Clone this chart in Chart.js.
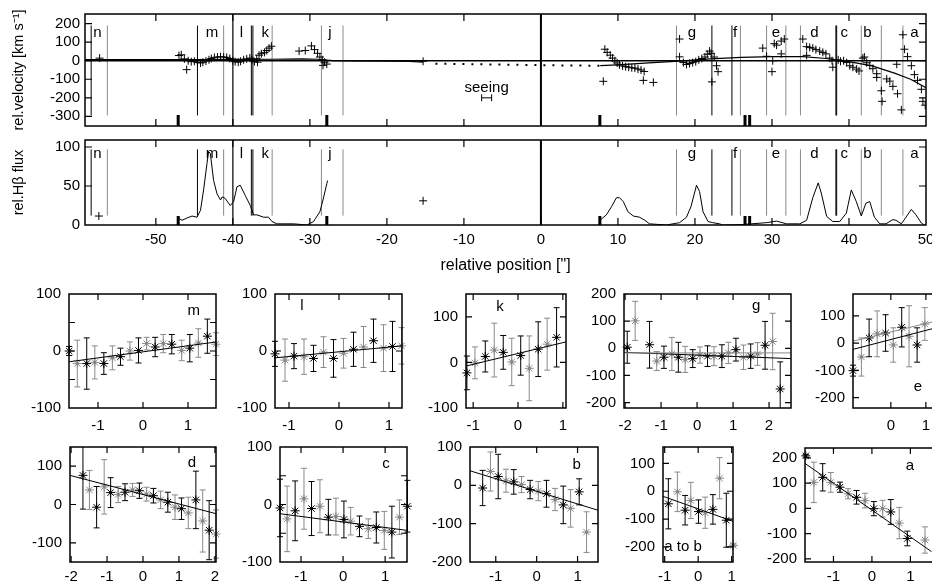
<!DOCTYPE html>
<html>
<head>
<meta charset="utf-8">
<script src="https://cdn.jsdelivr.net/npm/chart.js@4.4.1/dist/chart.umd.min.js"></script>
<style>
  body { margin: 0; background: #fff; width: 932px; height: 586px; overflow: hidden; position: relative; }
  canvas { position: absolute; }
</style>
</head>
<body>
<script>
const FONT = '"Liberation Sans", Arial, Helvetica, sans-serif';
const GRAY = '#8a8a8a';

// ---- top panels: position along the slit (arcsec)
const posTicks = [-50, -40, -30, -20, -10, 0, 10, 20, 30, 40, 50];
const velTicks = [-300, -200, -100, 0, 100, 200];
const fluxTicks = [0, 50, 100];

const velX = [-57.3,
  -47.0, -46.7, -46.3, -46.0, -45.8, -45.4, -45.0, -44.6, -44.2, -43.9, -43.5, -43.1, -42.8, -42.4, -42.0, -41.6, -41.2, -40.8, -40.4,
  -40.0, -39.7, -39.3, -39.0, -38.6, -38.2, -37.8, -37.5,
  -37.2, -36.9, -36.8, -36.6, -36.3, -35.9, -35.6, -35.3, -35.0,
  -31.4, -30.6, -29.8, -29.4, -29.0, -28.7, -28.4, -28.1, -27.8, -28.3,
  -15.3,
  8.1, 8.3, 8.6, 9.0, 9.3, 9.6, 9.9, 10.2, 10.6, 11.0, 11.4, 11.8, 12.2, 12.6, 13.0, 13.4, 13.3, 14.6,
  18.0, 18.0, 18.5, 18.9, 19.3, 19.7, 20.1, 20.5, 20.9, 21.3, 21.6, 21.9, 22.1, 22.2, 22.8, 23.0, 22.5,
  28.8, 29.3, 30.1, 30.0, 30.6, 31.2, 31.6, 31.2, 30.3,
  34.0, 34.5, 34.9, 35.3, 35.7, 36.2, 36.6, 37.0, 37.5, 37.9, 34.5, 37.8,
  38.6, 38.9, 39.3, 39.7, 40.1, 40.5, 41.0, 41.3,
  41.8, 42.0, 42.3, 42.7, 43.1, 43.6, 43.6, 44.2, 44.3,
  44.9, 45.3, 45.7, 46.3, 46.8, 46.2,
  47.0, 47.2, 47.6, 48.1, 48.5, 48.9, 49.4, 49.6, 49.9];
const velY = [14,
  28, 32, 10, -48, 0, -5, -3, -10, -12, -8, -2, 5, 12, 18, 20, 22, 20, 18, 12,
  0, -5, -8, -3, 5, 10, 14, 6,
  -5, 10, -8, 30, 38, 45, 55, 68, 78,
  52, 55, 80, 60, 40, 20, 5, -8, -18, -25,
  -3,
  -111, 62, 45, 30, 14, 0, -12, -22, -28, -32, -35, -38, -40, -45, -50, -58, -106, -117,
  117, 21, -10, -20, -15, -10, -5, 5, 12, 20, 35, 52, 40, -114, -27, -59, 20,
  68, 24, 0, -59, 84, 106, 117, 37, 92,
  117, 76, 72, 68, 60, 52, 45, 37, 14, -35, 29, 0,
  5, -3, 0, -10, -27, -35, -45, -55,
  14, 20, -11, -25, -43, -70, -90, -162, -219,
  -98, -110, -138, -178, -265, -19,
  140, 62, 22, -27, -75, -106, -154, -219, -240];

const fitLeftX = [-59.2, -50, -45, -40, -35, -31, -29, -27, -25, -20, -17, -15.3];
const fitLeftY = [6, 6, 6, 7, 8, 10, 8, 1, -1, -2, -4, -8];
const fitDotX = [-13.7, -8, -3, 2, 7.6];
const fitDotY = [-16, -19, -22, -25, -27];
const fitRightX = [7.7, 10, 14, 18, 22, 26, 30, 34, 37, 40, 43, 46, 48, 50];
const fitRightY = [-26, -22, -12, -2, 10, 18, 22, 22, 12, -5, -28, -68, -100, -145];

const fluxLeftX = [-47.25, -46.6, -45.95, -45.3, -44.65, -44.2, -43.8, -43.36, -43.15, -42.93, -42.5, -42.06, -41.6, -41.4, -40.99,
  -40.34, -39.9, -39.47, -39.04, -38.4, -37.74, -37.3, -36.88, -36.0, -35.37, -34.93, -34.28, -32.1, -30.4, -29.5, -29.3, -28.7,
  -28.3, -27.8, -27.7];
const fluxLeftY = [10, 6, 9, 11.5, 10, 19, 45, 79, 94, 92, 57, 40, 32, 36, 34,
  25, 30, 49, 51, 38, 25, 13, 13, 10, 10, 4.5, 1.5, 1.5, 0, 4.5, 8, 17,
  32, 53, 57];
const fluxRightX = [7.65, 8.5, 9.2, 9.8, 10.2, 10.7, 11.3, 12.0, 12.8, 13.5, 14.1, 16.3, 18.0, 18.9, 19.5, 20.2, 20.6, 21.05,
  21.7, 22.3, 23.2, 23.6, 26, 29.3, 30.6, 31.9, 33.6, 34.5, 35.3, 36.0, 36.4, 37.1, 37.9, 38.8, 39.65, 40.3, 40.95, 41.6,
  42.2, 42.7, 43.3, 44.0, 44.8, 45.7, 46.1, 46.8, 47.4, 48.1, 48.7, 49.4, 49.8];
const fluxRightY = [6, 13, 24, 35, 35, 30, 17, 11.5, 10, 6, 1.5, 0, 3, 10, 24, 51, 43, 17,
  4.5, 3, 1.5, 0, 0.5, 3, 5, 1.5, 1.5, 6, 35, 54, 41, 11, 4.5, 4.5, 15, 45, 30, 11.5,
  28, 30, 10, 1.5, 1.5, 7, 6, 1.5, 10, 20, 13, 2.5, 0];
const fluxMarkX = [-57.4, -15.3];
const fluxMarkY = [11.5, 31];

const regionNames = ['n', 'm', 'l', 'k', 'j', 'g', 'f', 'e', 'd', 'c', 'b', 'a'];
const regionLabelX = [-57.6, -42.7, -38.9, -35.8, -27.4, 19.6, 25.2, 30.5, 35.5, 39.4, 42.4, 48.5];
const boundX = [-58.4, -56.3, -44.6, -41.2, -37.6, -37.4, -34.9, -28.5, -25.7, 17.6, 22.2, 24.8, 25.9, 29.3, 31.8, 33.7, 38.3, 38.4, 41.6, 44.2, 47.0];
const boundGray = [0, 1, 0, 1, 0, 0, 1, 1, 1, 1, 0, 0, 1, 1, 1, 1, 0, 0, 1, 1, 1];
const fullLineX = [-40, 0];
const markerBarX = [-47.1, -27.8, 7.65, 26.5, 27.1];
const seeingX = [-7.7, -6.4];
const seeingY = -200;

// ---- small panels: velocity vs offset within each region
const mX = [-1.64, -1.46, -1.25, -1.07, -0.87, -0.68, -0.5, -0.29, -0.1, 0.08, 0.27, 0.45, 0.64, 0.86, 1.04, 1.23, 1.43, 1.62];
const mV = [0, -22, -22, -20, -22, -12, -10, 0, 1, 13, 7, 13, 12, 1, 5, 14, 26, 12];
const mErr = [8, 41, 45, 29, 19, 21, 15, 16, 22, 11, 17, 16, 17, 18, 24, 25, 30, 20];
const mFitX = [-1.65, 1.64], mFitV = [-19, 16];

const lX = [-1.28, -1.08, -0.9, -0.7, -0.51, -0.31, -0.11, 0.09, 0.29, 0.49, 0.69, 0.89, 1.07, 1.25];
const lV = [-5, -16, -9, -10, -13, -2, -13, -4, 3, 7, 18, 5, 8, 9];
const lErr = [22, 37, 22, 31, 23, 27, 33, 26, 30, 36, 38, 41, 44, 32];
const lFitX = [-1.28, 1.26], lFitV = [-12, 9];

const kX = [-1.14, -0.96, -0.73, -0.53, -0.33, -0.14, 0.06, 0.25, 0.45, 0.65, 0.86];
const kV = [-23, -1, 13, 27, 22, 1, 15, -13, 29, 40, 55];
const kErr = [37, 35, 34, 59, 37, 52, 43, 71, 60, 57, 65];
const kFitX = [-1.16, 1.07], kFitV = [-8, 45];

const gX = [-1.94, -1.72, -1.32, -1.12, -0.92, -0.70, -0.52, -0.33, -0.12, 0.08, 0.29, 0.47, 0.69, 0.87, 1.08, 1.29, 1.49, 1.68, 1.89, 2.10, 2.31];
const gV = [4, 101, 13, -47, -33, -21, -33, -41, -38, -25, -29, -29, -29, -17, -5, -33, -29, -21, 11, 25, -150];
const gErr = [59, 72, 86, 35, 41, 61, 55, 48, 33, 30, 38, 35, 42, 39, 42, 45, 45, 42, 88, 104, 100];
const gFitX = [-2.03, 2.61], gFitV = [-15, -38], gFit2V = [-17, -17];

const eX = [-1.08, -0.84, -0.62, -0.39, -0.15, 0.07, 0.31, 0.52, 0.75, 0.97];
const eV = [-101, -51, 19, 34, 37, -7, 58, 25, -7, 70];
const eErr = [20, 70, 69, 84, 67, 63, 72, 112, 63, 60];
const eFitX = [-1.08, 2.0], eFitV = [-23, 80], eFit2V = [7, 103];

const dX = [-1.67, -1.49, -1.29, -1.08, -0.9, -0.69, -0.5, -0.29, -0.1, 0.1, 0.29, 0.49, 0.69, 0.89, 1.07, 1.26, 1.47, 1.66, 1.84, 2.03];
const dV = [76, 38, -7, 46, 31, 26, 32, 38, 36, 27, 23, 12, 6, -7, -11, -22, 12, -43, -67, -77];
const dErr = [88, 51, 54, 71, 39, 21, 22, 17, 20, 18, 19, 23, 26, 32, 28, 41, 75, 81, 77, 63];
const dFitX = [-2.03, 2.03], dFitV = [76, -24];

const cX = [-1.5, -1.33, -1.14, -0.93, -0.75, -0.55, -0.35, -0.17, 0.02, 0.18, 0.39, 0.6, 0.79, 0.98, 1.16, 1.34, 1.53];
const cV = [-6, -25, -11, 10, -7, -3, -22, -21, -26, -29, -38, -42, -40, -45, -48, -22, -3];
const cErr = [50, 57, 52, 53, 47, 46, 31, 32, 32, 24, 18, 17, 27, 33, 45, 30, 45];
const cFitX = [-1.5, 1.52], cFitV = [-16, -45];

const bX = [-1.32, -1.13, -0.94, -0.75, -0.56, -0.37, -0.16, 0.04, 0.24, 0.45, 0.65, 0.83, 1.04, 1.22];
const bV = [-7, 36, 23, 12, 9, 2, -11, -15, -22, -37, -51, -60, -17, -122];
const bErr = [46, 51, 58, 30, 32, 21, 24, 25, 35, 29, 49, 49, 34, 53];
const bFitX = [-1.63, 1.5], bFitV = [38, -65];

const abX = [-0.89, -0.62, -0.39, -0.22, 0.01, 0.21, 0.44, 0.64, 0.84, 1.05];
const abV = [-45, -2, -68, -33, -73, -77, -65, 47, -104, -194];
const abErr = [90, 71, 53, 65, 42, 56, 53, 74, 97, 5];
const abFitX = [-1.05, 1.04], abFitV = [-18, -108];

const aX = [-1.72, -1.51, -1.28, -1.07, -0.83, -0.62, -0.4, -0.18, 0.05, 0.28, 0.49, 0.71, 0.92, 1.38];
const aV = [208, 103, 123, 103, 84, 58, 44, 31, -1, -1, -14, -58, -119, -125];
const aErr = [5, 80, 54, 39, 20, 20, 27, 29, 28, 33, 49, 62, 29, 52];
const aFitX = [-1.74, 1.55], aFitV = [178, -171];

// ---------------------------------------------------------------
function pts(xs, ys) { return xs.map((x, i) => ({ x, y: ys[i] })); }

function makeCanvas(left, top, w, h) {
  const cv = document.createElement('canvas');
  cv.width = w; cv.height = h;
  cv.style.left = left + 'px'; cv.style.top = top + 'px';
  document.body.appendChild(cv);
  return cv;
}

function axis(min, max, ticks, pad, extra) {
  return Object.assign({
    type: 'linear', min, max,
    afterBuildTicks: s => { s.ticks = ticks.map(v => ({ value: v })); },
    grid: { display: false, drawTicks: false },
    border: { display: false },
    ticks: { color: '#000', font: { family: FONT, size: 15 }, autoSkip: false, maxRotation: 0, padding: pad, callback: v => String(v) }
  }, extra);
}

// box with inward tick marks on all four sides
function frame(xm, ym, len) {
  return {
    id: 'frame',
    afterDraw(chart) {
      const { ctx, chartArea: a, scales: { x, y } } = chart;
      ctx.save();
      ctx.strokeStyle = '#000';
      ctx.lineWidth = 1.5;
      ctx.strokeRect(a.left, a.top, a.right - a.left, a.bottom - a.top);
      ctx.lineWidth = 1.2;
      ctx.beginPath();
      xm.forEach(v => {
        const p = x.getPixelForValue(v);
        if (p < a.left + 1 || p > a.right - 1) return;
        ctx.moveTo(p, a.bottom); ctx.lineTo(p, a.bottom - len);
        ctx.moveTo(p, a.top); ctx.lineTo(p, a.top + len);
      });
      ym.forEach(v => {
        const p = y.getPixelForValue(v);
        if (p < a.top + 1 || p > a.bottom - 1) return;
        ctx.moveTo(a.left, p); ctx.lineTo(a.left + len, p);
        ctx.moveTo(a.right, p); ctx.lineTo(a.right - len, p);
      });
      ctx.stroke();
      ctx.restore();
    }
  };
}

const errorBars = {
  id: 'errorBars',
  beforeDatasetsDraw(chart) {
    const { ctx, chartArea: a, scales: { x, y } } = chart;
    ctx.save();
    ctx.beginPath();
    ctx.rect(a.left - 6, a.top, a.right - a.left + 12, a.bottom - a.top);
    ctx.clip();
    ctx.lineWidth = 1;
    chart.data.datasets.forEach(ds => {
      if (!ds.errors) return;
      ds.data.forEach((d, i) => {
        const px = x.getPixelForValue(d.x);
        const lo = y.getPixelForValue(d.y - ds.errors[i]);
        const hi = y.getPixelForValue(d.y + ds.errors[i]);
        ctx.strokeStyle = ds.errColors[i];
        ctx.beginPath();
        ctx.moveTo(px, lo); ctx.lineTo(px, hi);
        ctx.moveTo(px - 3, lo); ctx.lineTo(px + 3, lo);
        ctx.moveTo(px - 3, hi); ctx.lineTo(px + 3, hi);
        ctx.stroke();
      });
    });
    ctx.restore();
  }
};

function notes(items, size) {
  return {
    id: 'notes',
    afterDatasetsDraw(chart) {
      const { ctx, scales: { x, y } } = chart;
      ctx.save();
      ctx.fillStyle = '#000';
      ctx.font = size + 'px ' + FONT;
      ctx.textAlign = 'center';
      ctx.textBaseline = 'middle';
      items.forEach(t => ctx.fillText(t.text, x.getPixelForValue(t.x), y.getPixelForValue(t.y)));
      ctx.restore();
    }
  };
}

// region boundaries, full-height lines, slit markers
function slitDeco(y0, y1, barH, extra) {
  return {
    id: 'slitDeco',
    beforeDatasetsDraw(chart) {
      const { ctx, chartArea: a, scales: { x, y } } = chart;
      ctx.save();
      ctx.lineWidth = 1;
      boundX.forEach((v, i) => {
        const px = x.getPixelForValue(v);
        ctx.strokeStyle = boundGray[i] ? GRAY : '#000';
        ctx.beginPath();
        ctx.moveTo(px, y.getPixelForValue(y0)); ctx.lineTo(px, y.getPixelForValue(y1));
        ctx.stroke();
      });
      fullLineX.forEach(v => {
        const px = x.getPixelForValue(v);
        ctx.strokeStyle = '#000';
        ctx.lineWidth = v === 0 ? 2 : 1.2;
        ctx.beginPath(); ctx.moveTo(px, a.top); ctx.lineTo(px, a.bottom); ctx.stroke();
      });
      ctx.fillStyle = '#000';
      markerBarX.forEach(v => {
        const px = x.getPixelForValue(v);
        ctx.fillRect(px - 1.5, a.bottom - barH, 3, barH);
      });
      if (extra) extra(ctx, a, x, y);
      ctx.restore();
    }
  };
}

const regionNotes = y => regionNames.map((n, i) => ({ text: n, x: regionLabelX[i], y }));

// ---------------- top: velocity
new Chart(makeCanvas(0, 0, 960, 140), {
  type: 'scatter',
  data: {
    datasets: [
      { type: 'line', data: pts(fitLeftX, fitLeftY), borderColor: '#000', borderWidth: 1.2, pointRadius: 0 },
      { type: 'line', data: pts(fitDotX, fitDotY), borderColor: '#000', borderWidth: 2, borderDash: [2, 7], pointRadius: 0 },
      { type: 'line', data: pts(fitRightX, fitRightY), borderColor: '#000', borderWidth: 1.2, pointRadius: 0 },
      { data: pts(velX, velY), pointStyle: 'cross', pointRadius: 4, borderColor: '#000', borderWidth: 1 }
    ]
  },
  options: {
    responsive: false, animation: false, events: [],
    layout: { padding: { top: 13, right: 34, left: 0, bottom: 0 } },
    plugins: { legend: { display: false }, tooltip: { enabled: false } },
    scales: {
      x: { type: 'linear', min: -59.2, max: 50, display: false },
      y: axis(-352, 252, velTicks, 5, {
        afterFit: s => { s.width = 85; },
        title: { display: true, text: 'rel.velocity [km s\u207B\u00B9]', color: '#000', font: { family: FONT, size: 14.5 }, padding: { top: 10, bottom: 0 } }
      })
    }
  },
  plugins: [
    frame(posTicks, velTicks, 7),
    slitDeco(-295, 190, 11, (ctx, a, x, y) => {
      const py0 = y.getPixelForValue(0);
      ctx.strokeStyle = '#000'; ctx.lineWidth = 1.5;
      ctx.beginPath(); ctx.moveTo(a.left, py0); ctx.lineTo(a.right, py0); ctx.stroke();
      const sx0 = x.getPixelForValue(seeingX[0]), sx1 = x.getPixelForValue(seeingX[1]), sy = y.getPixelForValue(seeingY);
      ctx.lineWidth = 1;
      ctx.beginPath();
      ctx.moveTo(sx0, sy); ctx.lineTo(sx1, sy);
      ctx.moveTo(sx0, sy - 3.5); ctx.lineTo(sx0, sy + 3.5);
      ctx.moveTo(sx1, sy - 3.5); ctx.lineTo(sx1, sy + 3.5);
      ctx.stroke();
    }),
    notes(regionNotes(152).concat([{ text: 'seeing', x: (seeingX[0] + seeingX[1]) / 2, y: -148 }]), 15)
  ]
});

// ---------------- top: H-beta flux
new Chart(makeCanvas(0, 125, 960, 155), {
  type: 'scatter',
  data: {
    datasets: [
      { type: 'line', data: pts(fluxLeftX, fluxLeftY), borderColor: '#000', borderWidth: 1, pointRadius: 0 },
      { type: 'line', data: pts(fluxRightX, fluxRightY), borderColor: '#000', borderWidth: 1, pointRadius: 0 },
      { data: pts(fluxMarkX, fluxMarkY), pointStyle: 'cross', pointRadius: 4, borderColor: '#000', borderWidth: 1 }
    ]
  },
  options: {
    responsive: false, animation: false, events: [],
    layout: { padding: { top: 15, right: 34, left: 0, bottom: 0 } },
    plugins: { legend: { display: false }, tooltip: { enabled: false } },
    scales: {
      x: axis(-59.2, 50, posTicks, 6, {
        afterFit: s => { s.height = 55; },
        title: { display: true, text: 'relative position ["]', color: '#000', font: { family: FONT, size: 16 }, padding: { top: 0, bottom: 5 } }
      }),
      y: axis(0, 109, fluxTicks, 5, {
        afterFit: s => { s.width = 85; },
        title: { display: true, text: 'rel.H\u03B2 flux', color: '#000', font: { family: FONT, size: 14.5 }, padding: { top: 10, bottom: 0 } }
      })
    }
  },
  plugins: [frame(posTicks, fluxTicks, 7), slitDeco(12, 97, 9), notes(regionNotes(91), 15)]
});

// ---------------- small panels
function smallPanel(p) {
  const [L, T, R, B] = p.box;
  const padT = 15, padR = 15, axW = 60, axH = 30;
  const cv = makeCanvas(L - axW, T - padT, R - L + axW + padR, B - T + padT + axH);
  const shade = p.x.map((_, i) => (i % 2 ? GRAY : '#000'));
  const datasets = p.fits.map(f => ({ type: 'line', data: pts(f.x, f.y), borderColor: f.color, borderWidth: 1, pointRadius: 0 }));
  datasets.push({ data: pts(p.x, p.v), errors: p.err, errColors: shade, pointStyle: 'star', pointRadius: 4.5, borderColor: shade, borderWidth: 1, clip: 8 });
  datasets.push({ data: pts(p.x, p.v), pointStyle: 'rect', pointRadius: 1.6, backgroundColor: '#000', borderColor: '#000', borderWidth: 0, clip: 8 });
  new Chart(cv, {
    type: 'scatter',
    data: { datasets },
    options: {
      responsive: false, animation: false, events: [],
      layout: { padding: { top: padT, right: padR, left: 0, bottom: 0 } },
      plugins: { legend: { display: false }, tooltip: { enabled: false } },
      scales: {
        x: axis(p.xr[0], p.xr[1], p.xt, p.xpad, { afterFit: s => { s.height = axH; } }),
        y: axis(p.yr[0], p.yr[1], p.yt, 8, { afterFit: s => { s.width = axW; } })
      }
    },
    plugins: [frame(p.xt, p.ym || p.yt, 6), errorBars, notes([{ text: p.name, x: p.lab[0], y: p.lab[1] }], 15)]
  });
}

const row1 = 9, row2 = 6;
smallPanel({ name: 'm', box: [69, 292, 216, 408], xr: [-1.644, 1.622], yr: [-100, 100], xt: [-1, 0, 1], yt: [-100, 0, 100], ym: [-100, -50, 0, 50, 100], xpad: row1,
  x: mX, v: mV, err: mErr, fits: [{ x: mFitX, y: mFitV, color: '#000' }], lab: [1.13, 71] });
smallPanel({ name: 'l', box: [275, 292, 402, 408], xr: [-1.28, 1.26], yr: [-100, 100], xt: [-1, 0, 1], yt: [-100, 0, 100], xpad: row1,
  x: lX, v: lV, err: lErr, fits: [{ x: lFitX, y: lFitV, color: '#000' }], lab: [-0.74, 79] });
smallPanel({ name: 'k', box: [466, 292, 566, 408], xr: [-1.16, 1.07], yr: [-100, 150], xt: [-1, 0, 1], yt: [-100, 0, 100], xpad: row1,
  x: kX, v: kV, err: kErr, fits: [{ x: kFitX, y: kFitV, color: '#000' }], lab: [-0.4, 121] });
smallPanel({ name: 'g', box: [624, 292, 791, 408], xr: [-2.03, 2.61], yr: [-220, 200], xt: [-2, -1, 0, 1, 2], yt: [-200, -100, 0, 100, 200], xpad: row1,
  x: gX, v: gV, err: gErr, fits: [{ x: gFitX, y: gFit2V, color: GRAY }, { x: gFitX, y: gFitV, color: '#000' }], lab: [1.64, 156] });
smallPanel({ name: 'e', box: [853, 292, 990, 408], xr: [-1.08, 2.83], yr: [-238, 180], xt: [0, 1, 2], yt: [-200, -100, 0, 100], xpad: row1,
  x: eX, v: eV, err: eErr, fits: [{ x: eFitX, y: eFit2V, color: GRAY }, { x: eFitX, y: eFitV, color: '#000' }], lab: [0.77, -162] });
smallPanel({ name: 'd', box: [70, 445, 216, 562], xr: [-2.03, 2.03], yr: [-150, 150], xt: [-2, -1, 0, 1, 2], yt: [-100, 0, 100], xpad: row2,
  x: dX, v: dV, err: dErr, fits: [{ x: dFitX, y: dFitV, color: '#000' }], lab: [1.36, 108] });
smallPanel({ name: 'c', box: [280, 445, 407, 562], xr: [-1.5, 1.52], yr: [-100, 100], xt: [-1, 0, 1], yt: [-100, 0, 100], ym: [-100, -50, 0, 50, 100], xpad: row2,
  x: cX, v: cV, err: cErr, fits: [{ x: cFitX, y: cFitV, color: '#000' }], lab: [1.02, 71] });
smallPanel({ name: 'b', box: [470, 445, 598, 562], xr: [-1.63, 1.5], yr: [-200, 100], xt: [-1, 0, 1], yt: [-200, -100, 0, 100], xpad: row2,
  x: bX, v: bV, err: bErr, fits: [{ x: bFitX, y: bFitV, color: '#000' }], lab: [0.98, 54] });
smallPanel({ name: 'a to b', box: [663, 445, 733, 562], xr: [-1.05, 1.04], yr: [-254, 159], xt: [-1, 0, 1], yt: [-200, -100, 0, 100], xpad: row2,
  x: abX, v: abV, err: abErr, fits: [{ x: abFitX, y: abFitV, color: '#000' }], lab: [-0.45, -201] });
smallPanel({ name: 'a', box: [805, 446, 960, 562], xr: [-1.74, 2.29], yr: [-212, 239], xt: [-1, 0, 1, 2], yt: [-200, -100, 0, 100, 200], xpad: row2,
  x: aX, v: aV, err: aErr, fits: [{ x: aFitX, y: aFitV, color: '#000' }], lab: [0.99, 169] });
</script>
</body>
</html>
